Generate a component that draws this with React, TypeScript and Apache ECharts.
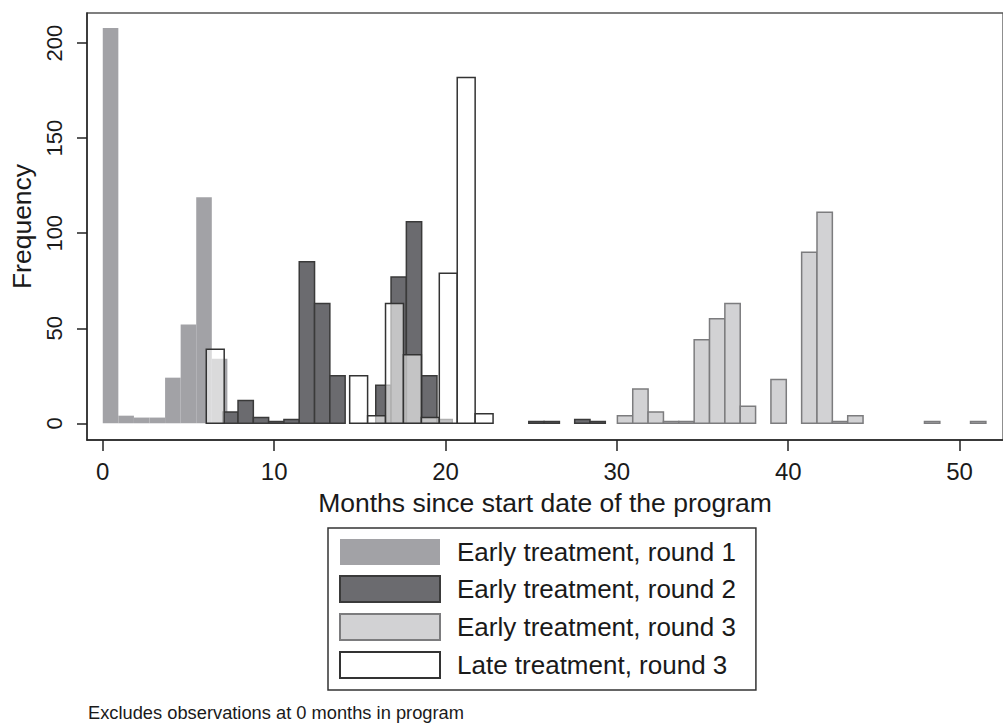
import React, { useEffect, useRef } from "react";
import * as echarts from "echarts";

// ---- Data ----
const seriesNames = [
  "Early treatment, round 1",
  "Early treatment, round 2",
  "Early treatment, round 3",
  "Late treatment, round 3",
];

// Each histogram: first bin's lower edge (months), bin width (months), frequencies per bin
const round1Start = 0;
const round1Width = 0.909;
const round1Counts = [208, 4, 3, 3, 24, 52, 119, 34, 4, 2, 1];

const round2Start = 7.0;
const round2Width = 0.893;
const round2Counts = [6, 12, 3, 1, 2, 85, 63, 25, 0, 0, 20, 77, 106, 25, 2, 0, 0, 0, 0, 0, 1, 1, 0, 2, 1];

const round3Start = 30.03;
const round3Width = 0.896;
const round3Counts = [4, 18, 6, 1, 1, 44, 55, 63, 9, 0, 23, 0, 90, 111, 1, 4, 0, 0, 0, 0, 1, 0, 0, 1];

const lateStart = 6.04;
const lateWidth = 1.046;
const lateCounts = [39, 0, 0, 0, 0, 0, 0, 0, 25, 4, 63, 36, 3, 79, 182, 5];

const xTicks = [0, 10, 20, 30, 40, 50];
const yTicks = [0, 50, 100, 150, 200];
const xTitle = "Months since start date of the program";
const yTitle = "Frequency";
const noteText = "Excludes observations at 0 months in program";

const FONT = "'Liberation Sans', Arial, Helvetica, sans-serif";
const TEXT = "#1a1a1a";

function toBins(start: number, width: number, counts: number[]) {
  return counts
    .map((c, i) => [start + i * width, start + (i + 1) * width, c])
    .filter((d) => d[2] > 0);
}

const renderItem = (_params: any, api: any) => {
  const x0 = api.value(0);
  const x1 = api.value(1);
  const c = api.value(2);
  const p0 = api.coord([x0, c]);
  const p1 = api.coord([x1, 0]);
  return {
    type: "rect",
    shape: { x: p0[0], y: p0[1], width: p1[0] - p0[0], height: p1[1] - p0[1] },
    style: api.style(),
  };
};

const PX_PER_MONTH = 17.38;
const GRID_LEFT = 82;
const GRID_TOP = 13;
const GRID_WIDTH = 929;
const GRID_HEIGHT = 427;
const X_MIN = -0.92;
const Y_MIN = -8.8;
const Y_MAX = 215.9;

export default function App() {
  const ref = useRef<HTMLDivElement>(null);

  useEffect(() => {
    if (!ref.current) return;
    const chart = echarts.init(ref.current, undefined, { renderer: "svg" });

    const styles = [
      { color: "#a2a2a6", borderColor: "#a2a2a6", borderWidth: 0 },
      { color: "#6b6b6f", borderColor: "#3a3a3a", borderWidth: 1.5 },
      { color: "#d2d2d4", borderColor: "#7c7c7e", borderWidth: 1.5 },
      { color: "rgba(255,255,255,0.6)", borderColor: "#333333", borderWidth: 1.5 },
    ];
    const binsList = [
      toBins(round1Start, round1Width, round1Counts),
      toBins(round2Start, round2Width, round2Counts),
      toBins(round3Start, round3Width, round3Counts),
      toBins(lateStart, lateWidth, lateCounts),
    ];

    const option: any = {
      animation: false,
      backgroundColor: "#ffffff",
      grid: {
        left: GRID_LEFT,
        top: GRID_TOP,
        width: GRID_WIDTH,
        height: GRID_HEIGHT,
        show: true,
        borderColor: "#555555",
        borderWidth: 1.3,
        backgroundColor: "transparent",
      },
      xAxis: {
        type: "value",
        min: X_MIN,
        max: X_MIN + GRID_WIDTH / PX_PER_MONTH,
        splitLine: { show: false },
        axisLine: { show: true, onZero: false, lineStyle: { color: "#222", width: 1.5 } },
        axisTick: { show: true, customValues: xTicks, length: 11, lineStyle: { color: "#222", width: 1.5 } },
        axisLabel: {
          customValues: xTicks,
          fontSize: 24,
          fontFamily: FONT,
          color: TEXT,
          margin: 19,
        },
        name: xTitle,
        nameLocation: "middle",
        nameGap: 49,
        nameTextStyle: { fontSize: 26.5, fontFamily: FONT, color: TEXT },
      },
      yAxis: {
        type: "value",
        min: Y_MIN,
        max: Y_MAX,
        splitLine: { show: false },
        axisLine: { show: true, onZero: false, lineStyle: { color: "#222", width: 1.5 } },
        axisTick: { show: true, customValues: yTicks, length: 10, lineStyle: { color: "#222", width: 1.5 } },
        axisLabel: {
          customValues: yTicks,
          rotate: 90,
          fontSize: 22,
          fontFamily: FONT,
          color: TEXT,
          margin: 22,
        },
        name: yTitle,
        nameLocation: "middle",
        nameGap: 52,
        nameTextStyle: { fontSize: 26.5, fontFamily: FONT, color: TEXT },
      },
      legend: {
        orient: "vertical",
        left: 328,
        top: 528,
        icon: "rect",
        itemWidth: 100,
        itemHeight: 26,
        itemGap: 10,
        padding: [11, 20, 11, 11],
        borderColor: "#333",
        borderWidth: 1.5,
        selectedMode: false,
        textStyle: {
          fontSize: 26,
          lineHeight: 26,
          fontFamily: FONT,
          color: TEXT,
          padding: [0, 0, 0, 12],
        },
        data: seriesNames,
      },
      graphic: [
        {
          type: "text",
          left: 88,
          top: 703,
          style: { text: noteText, fontSize: 18.3, fontFamily: FONT, fill: TEXT },
        },
      ],
      series: seriesNames.map((name, i) => ({
        type: "custom",
        name,
        renderItem,
        clip: true,
        itemStyle: styles[i],
        encode: { x: [0, 1], y: 2 },
        data: binsList[i],
      })),
    };

    chart.setOption(option);
    return () => chart.dispose();
  }, []);

  return (
    <div
      ref={ref}
      style={{ position: "fixed", left: 0, top: 0, width: 1003, height: 723, background: "#fff" }}
    />
  );
}
